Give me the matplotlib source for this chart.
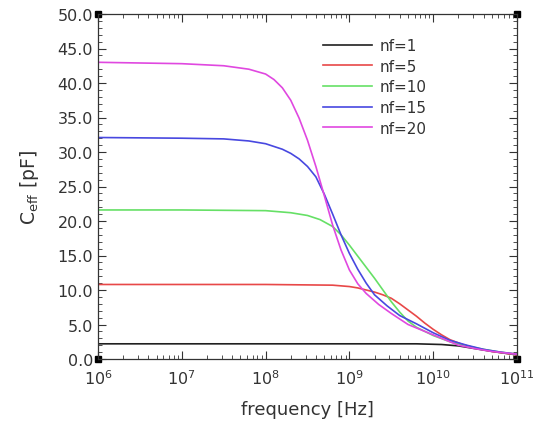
import numpy as np
import matplotlib
matplotlib.use("Agg")
import matplotlib.pyplot as plt
from matplotlib.ticker import MultipleLocator, FormatStrFormatter, LogLocator

# log10(frequency) and C_eff [pF]
nf1_logf = [6.0, 9.0, 9.8, 10.1, 10.3, 10.5, 10.7, 11.0]
nf1_c = [2.2, 2.2, 2.2, 2.1, 1.9, 1.5, 1.1, 0.6]

nf5_logf = [6.0, 8.0, 8.8, 9.0, 9.1, 9.2, 9.3, 9.4, 9.5, 9.6, 9.7, 9.8, 9.9, 10.0,
            10.1, 10.2, 10.35, 10.5, 10.7, 11.0]
nf5_c = [10.8, 10.8, 10.7, 10.5, 10.3, 10.0, 9.7, 9.3, 8.8, 8.0, 7.1, 6.2, 5.2, 4.3,
         3.5, 2.8, 2.1, 1.6, 1.1, 0.6]

nf10_logf = [6.0, 7.0, 8.0, 8.3, 8.5, 8.65, 8.8, 8.9, 9.0, 9.1, 9.2, 9.3, 9.4, 9.5,
             9.6, 9.7, 9.8, 10.0, 10.2, 10.4, 10.6, 10.8, 11.0]
nf10_c = [21.6, 21.6, 21.5, 21.2, 20.8, 20.2, 19.2, 18.0, 16.5, 14.9, 13.3, 11.7, 10.0, 8.3,
          6.8, 5.5, 4.6, 3.4, 2.5, 1.9, 1.4, 1.0, 0.7]

nf15_logf = [6.0, 7.0, 7.5, 7.8, 8.0, 8.2, 8.3, 8.4, 8.5, 8.6, 8.7, 8.8, 8.9, 9.0, 9.1,
             9.2, 9.3, 9.45, 9.6, 9.8, 10.0, 10.2, 10.4, 10.6, 10.8, 11.0]
nf15_c = [32.1, 32.0, 31.9, 31.6, 31.2, 30.4, 29.8, 29.0, 27.9, 26.4, 23.9, 21.0, 18.0, 15.3, 13.0,
          11.0, 9.3, 7.7, 6.3, 5.1, 3.8, 2.7, 2.0, 1.4, 1.0, 0.7]

nf20_logf = [6.0, 6.5, 7.0, 7.5, 7.8, 8.0, 8.1, 8.2, 8.3, 8.4, 8.5, 8.6, 8.7, 8.8, 8.9,
             9.0, 9.1, 9.2, 9.35, 9.5, 9.7, 9.9, 10.1, 10.3, 10.5, 10.7, 11.0]
nf20_c = [43.0, 42.9, 42.8, 42.5, 42.0, 41.3, 40.5, 39.3, 37.5, 34.9, 31.7, 27.9, 23.7, 19.4, 15.8,
          12.9, 10.9, 9.5, 7.9, 6.6, 5.0, 4.0, 3.0, 2.0, 1.5, 1.1, 0.7]

labels = ["nf=1", "nf=5", "nf=10", "nf=15", "nf=20"]
colors = ["#202020", "#e84848", "#66e066", "#4848e0", "#e048e0"]
series = [(nf1_logf, nf1_c), (nf5_logf, nf5_c), (nf10_logf, nf10_c),
          (nf15_logf, nf15_c), (nf20_logf, nf20_c)]

plt.rcParams['font.family'] = ['DejaVu Sans']
fig = plt.figure(figsize=(5.35, 4.27), dpi=100)
ax = fig.add_axes([98/535, 1-360/427, 419/535, 345/427])

for (lf, c), lab, col in zip(series, labels, colors):
    ax.plot(10.0 ** np.array(lf), c, color=col, lw=1.2, label=lab)

ax.set_xscale('log')
ax.set_xlim(1e6, 1e11)
ax.set_ylim(0, 50)
ax.yaxis.set_major_locator(MultipleLocator(5))
ax.yaxis.set_minor_locator(MultipleLocator(1))
ax.yaxis.set_major_formatter(FormatStrFormatter('%.1f'))
ax.xaxis.set_major_locator(LogLocator(base=10, numticks=10))
ax.xaxis.set_minor_locator(LogLocator(base=10, subs=np.arange(2, 10), numticks=20))
ax.tick_params(which='both', direction='in', top=True, right=True, labelsize=11.5, colors='#333333')
ax.tick_params(which='major', length=6, width=0.8)
ax.tick_params(which='minor', length=3, width=0.6)
ax.tick_params(axis='x', which='major', pad=7)
for s in ax.spines.values():
    s.set_color('#333333')
    s.set_linewidth(0.9)

ax.plot([0, 1, 0, 1], [0, 0, 1, 1], 's', color='k', ms=4, transform=ax.transAxes, clip_on=False)

ax.set_xlabel("frequency [Hz]", fontsize=13, color='#333333', labelpad=9)
ax.set_ylabel(r"C$_{\mathrm{eff}}$ [pF]", fontsize=13.5, color='#333333', labelpad=12)

leg = ax.legend(loc='upper left', bbox_to_anchor=((323-98)/419, (360-39)/345),
                frameon=False, fontsize=11, handlelength=3.2, handletextpad=0.5,
                labelspacing=0.37, borderaxespad=0, borderpad=0)
for t in leg.get_texts():
    t.set_color('#333333')

fig.savefig("out.png", dpi=100)
